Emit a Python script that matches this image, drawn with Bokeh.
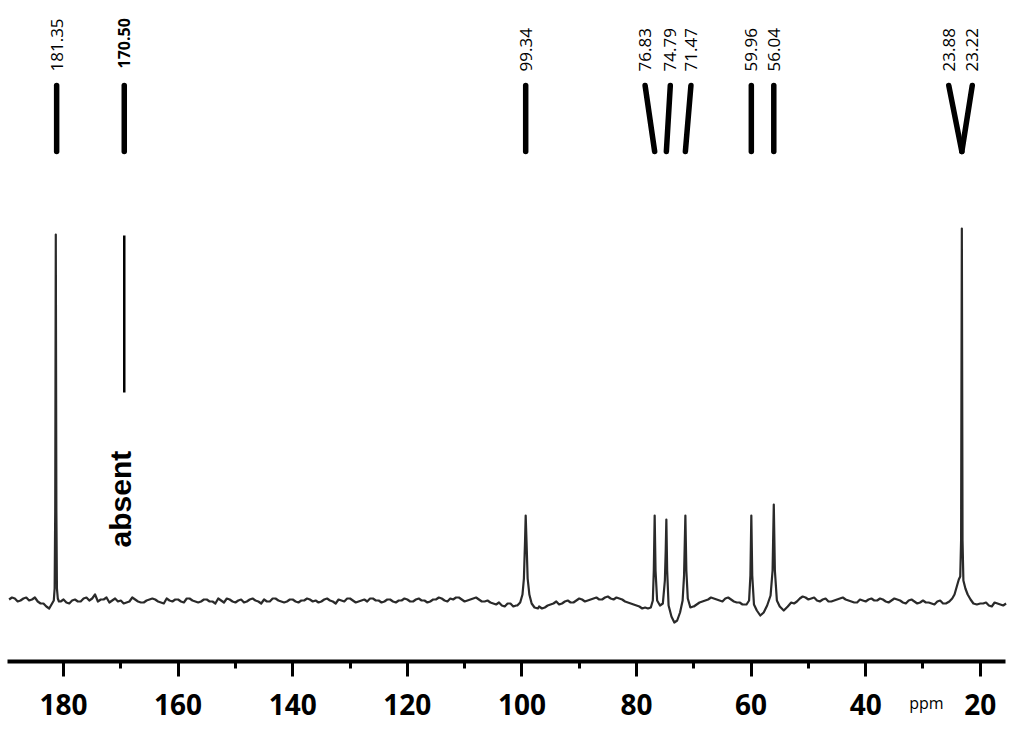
import numpy as np
from bokeh.plotting import figure
from bokeh.models import Range1d, LinearAxis, FixedTicker, ColumnDataSource
from bokeh.core.properties import value
from bokeh.embed import file_html
from bokeh.resources import INLINE

# ---------------- data ----------------
# assigned 13C shifts (ppm) shown at the top
peak_labels = ["181.35", "170.50", "99.34", "76.83", "74.79", "71.47",
               "59.96", "56.04", "23.88", "23.22"]
label_ppm = [181.2, 169.4, 99.34, 78.5, 74.1, 70.5, 59.96, 56.04, 25.5, 21.4]
marker_end_ppm = [181.2, 169.4, 99.34, 76.83, 74.79, 71.47, 59.96, 56.04, 23.22, 23.22]
label_bold = [False, True, False, False, False, False, False, False, False, False]

# baseline intensity read every 1 ppm from 189.5 down to 15.5 ppm
baseline_start = 189.5
baseline_step = -1.0
baseline_int = [
    1, 2, 0, 3, 1, -1, -3, -8, 0, -1,        # 189.5 .. 180.5
    -2, 0, -1, 2, 0, 6, 1, 3, 0, -1,         # 179.5 .. 170.5
    -3, -1, 1, -2, 0, 2, -1, -3, 0, 1,       # 169.5 .. 160.5
    -1, 2, 0, -2, 1, -1, -3, 0, 2, -1,       # 159.5 .. 150.5
    0, -2, 1, 0, -3, -1, 2, 0, -2, 1,        # 149.5 .. 140.5
    -1, 0, 2, -1, -2, 1, 0, -3, 0, 2,        # 139.5 .. 130.5
    0, -1, 1, 2, 0, -2, 1, -1, 0, 2,         # 129.5 .. 120.5
    -1, 1, 0, -2, 1, 3, 0, 2, 3, 1,          # 119.5 .. 110.5
    0, 2, 1, -1, -2, -4, -5, -3, -6, -4,     # 109.5 .. 100.5
    0, 0, -7, -8, -5, -3, -4, -1, -2, 0,     # 99.5 .. 90.5
    1, 0, 2, 1, 3, 2, 3, 1, -2, -4,          # 89.5 .. 80.5
    -6, -7, 0, 0, 0, 0, 0, 0, 0, -7,         # 79.5 .. 70.5
    -4, -1, 1, 2, 0, 2, 1, -2, -4, -5,       # 69.5 .. 60.5
    0, 0, 0, 0, 0, 0, 0, -3, 2, 3,           # 59.5 .. 50.5
    2, 0, 1, -1, 0, 2, 1, -1, -2, 0,         # 49.5 .. 40.5
    1, 0, 2, -1, 0, 1, -2, 0, -1, -2,        # 39.5 .. 30.5
    -2, -3, -1, -3, -2, 0, 0, 0, 0, 0,       # 29.5 .. 20.5
    -3, -5, -2, -4, -3,                      # 19.5 .. 15.5
]
# baseline intensity read at the whole-ppm points between them (189 .. 16 ppm)
baseline_mid_start = 189.0
baseline_mid_int = [
    3, -1, 2, 0, 3, -3, -6, -4, 0,           # 189 .. 181
    1, -3, 1, -1, 3, 2, -1, 1, -2, 2,        # 180 .. 171
    0, -2, 3, -1, -2, 1, 1, -2, 2, -1,       # 170 .. 161
    1, -2, 2, -1, -1, 1, -1, 2, -2, 1,       # 160 .. 151
    -2, 1, -1, 2, -1, 1, -1, 2, -1, -1,      # 150 .. 141
    1, -2, 0, 1, 0, -1, 2, -1, 1, -1,        # 140 .. 131
    2, -2, 0, -1, 2, 0, -1, 1, -2, 0,        # 130 .. 121
    1, -1, 2, 0, -1, 1, 2, -1, 1, 3,         # 120 .. 111
    -1, 1, 3, -1, 0, -3, -2, -6, -3, -5,     # 110 .. 101
    0, 0, 0, -6, -7, -4, -1, -3, 0, -2,      # 100 .. 91
    2, -1, 1, 3, 1, 4, 1, 2, -1, -3,         # 90 .. 81
    -5, -8, 0, 0, 0, 0, 0, 0, 0, 0,          # 80 .. 71
    -6, -2, 0, 3, 1, -1, 3, -1, -2, -4,      # 70 .. 61
    0, 0, 0, 0, 0, 0, 0, 0, -1, 4,           # 60 .. 51
    1, 3, -1, 2, -1, 1, 3, 0, -2, 1,         # 50 .. 41
    -1, 2, 0, 1, -2, 2, 0, -3, 1, -3,        # 40 .. 31
    0, -2, -4, 0, -4, -1, 0, 0, 0, 0,        # 30 .. 21
    0, -2, -6, -3, -5,                       # 20 .. 16
]

# resonance regions: (ppm, intensity)
peak_181_ppm = [182.0, 181.7, 181.55, 181.45, 181.35, 181.25, 181.15, 181.0, 180.8]
peak_181_int = [-3, 0, 12, 90, 366, 90, 12, 2, -1]

peak_99_ppm = [100.8, 100.3, 99.9, 99.65, 99.45, 99.34, 99.2, 99.0, 98.7, 98.3, 97.8, 97.2]
peak_99_int = [-5, -2, 6, 22, 60, 85, 60, 22, 6, -3, -7, -8]

peak_77_71_ppm = [78.0, 77.5, 77.15, 76.98, 76.83, 76.68, 76.4, 75.9, 75.4, 75.05, 74.9,
                  74.79, 74.65, 74.4, 73.9, 73.4, 72.9, 72.4, 71.95, 71.7, 71.47, 71.3,
                  71.05, 70.6, 70.1]
peak_77_71_int = [-8, -7, 0, 30, 85, 30, 0, -5, -3, 20, 50,
                  81, 30, -5, -16, -22, -20, -12, 0, 25, 85, 30,
                  2, -7, -6]

peak_60_56_ppm = [60.8, 60.35, 60.12, 59.96, 59.8, 59.5, 59.0, 58.4, 57.8, 57.2, 56.6,
                  56.25, 56.04, 55.85, 55.5, 55.0, 54.3, 53.6, 53.0]
peak_60_56_int = [-4, 0, 25, 85, 25, -4, -10, -15, -12, -5, 5,
                  30, 96, 30, 0, -6, -10, -6, -2]

peak_23_ppm = [26.0, 25.4, 24.9, 24.5, 24.1, 23.75, 23.5, 23.35, 23.22, 23.1, 22.95,
               22.6, 22.2, 21.7, 21.2, 20.6, 20.0]
peak_23_int = [-3, -1, 2, 6, 14, 21, 24, 60, 372, 60, 20,
               12, 6, 1, -3, -4, -3]

tick_values = [180, 160, 140, 120, 100, 80, 60, 40, 20]
minor_tick_values = [170, 150, 130, 110, 90, 70, 50, 30]
unit_label = "ppm"

# ---------------- assemble trace ----------------
regions = [(peak_181_ppm, peak_181_int), (peak_99_ppm, peak_99_int),
           (peak_77_71_ppm, peak_77_71_int), (peak_60_56_ppm, peak_60_56_int),
           (peak_23_ppm, peak_23_int)]
windows = [(min(xs), max(xs)) for xs, _ in regions]
base_ppm = [baseline_start + i * baseline_step for i in range(len(baseline_int))]
mid_ppm = [baseline_mid_start + i * baseline_step for i in range(len(baseline_mid_int))]
base_pts = list(zip(base_ppm, baseline_int)) + list(zip(mid_ppm, baseline_mid_int))
pts = [(x, y) for x, y in base_pts
       if not any(lo <= x <= hi for lo, hi in windows)]
for xs, ys in regions:
    pts += list(zip(xs, ys))
pts.sort(key=lambda t: -t[0])
spec_ppm = [t[0] for t in pts]
spec_int = [t[1] for t in pts]

# ---------------- figure ----------------
p = figure(width=1016, height=724,
           x_range=Range1d(191.0, 13.68), y_range=Range1d(-124, 600),
           output_backend="svg", toolbar_location=None,
           x_axis_location=None, y_axis_location=None,
           min_border_left=0, min_border_right=0, min_border_top=0,
           min_border_bottom=0)
p.outline_line_color = None
p.grid.grid_line_color = None
p.background_fill_color = "white"
p.border_fill_color = "white"

xaxis = LinearAxis(ticker=FixedTicker(ticks=tick_values, minor_ticks=minor_tick_values),
                   bounds=(15.6, 189.8), fixed_location=-61)
xaxis.axis_line_width = 4
xaxis.axis_line_color = "black"
xaxis.major_tick_line_width = 3
xaxis.major_tick_line_color = "black"
xaxis.major_tick_in = 0
xaxis.major_tick_out = 15
xaxis.minor_tick_line_width = 3
xaxis.minor_tick_line_color = "black"
xaxis.minor_tick_in = 0
xaxis.minor_tick_out = 7
xaxis.major_label_text_font = "Open Sans"
xaxis.major_label_text_font_style = "bold"
xaxis.major_label_text_font_size = "28px"
xaxis.major_label_text_color = "black"
xaxis.major_label_standoff = 17
p.add_layout(xaxis, "below")

# spectrum trace
p.line(spec_ppm, spec_int, line_color="#2a2a2a", line_width=2.2, line_join="round")

# assignment markers at the top
p.segment(x0=label_ppm, y0=[515] * len(label_ppm), x1=marker_end_ppm, y1=[449] * len(label_ppm),
          line_color="black", line_width=5.5, line_cap="round")

norm_src = ColumnDataSource(dict(
    x=[x for x, b in zip(label_ppm, label_bold) if not b],
    t=[t for t, b in zip(peak_labels, label_bold) if not b]))
bold_src = ColumnDataSource(dict(
    x=[x for x, b in zip(label_ppm, label_bold) if b],
    t=[t for t, b in zip(peak_labels, label_bold) if b]))
p.text(x="x", y=529, text="t", source=norm_src, angle=np.pi / 2,
       text_align="left", text_baseline="middle",
       text_font=value("Open Sans"), text_font_size="17px", text_color="black")
p.text(x="x", y=532, text="t", source=bold_src, angle=np.pi / 2,
       text_align="left", text_baseline="middle",
       text_font=value("Open Sans"), text_font_style="bold",
       text_font_size="16px", text_color="black")

# "absent" marker for the 170.50 carbon
absent_ppm = label_ppm[1]
p.segment(x0=[absent_ppm], y0=[365], x1=[absent_ppm], y1=[208],
          line_color="black", line_width=2.5)
p.text(x=[absent_ppm], y=[53], text=["absent"], angle=np.pi / 2, x_offset=-4,
       text_align="left", text_baseline="middle",
       text_font=value("Liberation Sans"), text_font_style="bold",
       text_font_size="30px", text_color="black")

# unit label next to the axis numbers
p.text(x=[29.4], y=[-102], text=[unit_label], text_align="center",
       text_baseline="middle", text_font=value("Open Sans"),
       text_font_size="16px", text_color="black")

open("out.html", "w").write(file_html(p, INLINE))
